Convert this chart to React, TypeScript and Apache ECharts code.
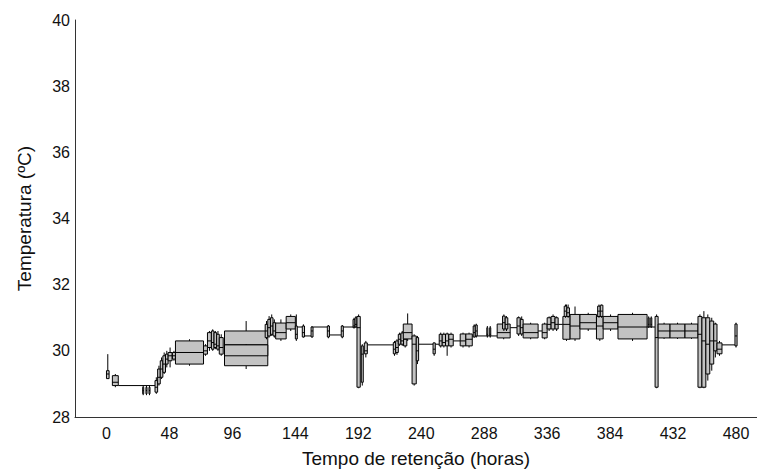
import React, { useEffect, useRef } from "react";
import * as echarts from "echarts";

// Tick labels
const xTicks = [0, 48, 96, 144, 192, 240, 288, 336, 384, 432, 480];

// Boxes: [hourStart, hourEnd, low, q1, median, q3, high]  (hours, ºC)
const boxesA = [
  [0, 2, 29.16, 29.16, 29.3, 29.4, 29.9],
  [4.5, 9, 28.9, 28.95, 29.05, 29.25, 29.3],
  [27.6, 28.4, 28.66, 28.7, 28.8, 28.9, 28.95],
  [30.1, 30.9, 28.66, 28.7, 28.8, 28.9, 28.95],
  [32.4, 33.2, 28.66, 28.7, 28.8, 28.9, 28.95],
  [37, 39, 28.7, 28.75, 28.9, 29.1, 29.2],
  [39, 41, 28.95, 29.0, 29.2, 29.45, 29.55],
  [41, 43, 29.15, 29.2, 29.45, 29.7, 29.8],
  [43, 45, 29.3, 29.35, 29.6, 29.85, 29.95],
  [45, 47, 29.5, 29.6, 29.75, 29.9, 30.0],
];
const boxesB = [
  [47, 50, 29.5, 29.7, 29.85, 29.95, 30.1],
  [50.3, 52.6, 29.7, 29.75, 29.85, 29.95, 30.0],
  [52.6, 74, 29.55, 29.6, 29.95, 30.3, 30.35],
  [74, 77, 29.85, 29.9, 30.0, 30.15, 30.2],
  [77, 80, 30.0, 30.1, 30.3, 30.55, 30.6],
  [80, 82, 30.0, 30.05, 30.25, 30.6, 30.65],
  [82, 84, 30.05, 30.1, 30.2, 30.55, 30.6],
  [84, 86, 30.0, 30.05, 30.15, 30.5, 30.6],
  [86, 89, 29.85, 29.9, 30.1, 30.4, 30.5],
];
const boxesC = [
  [90, 123, 29.8, 29.85, 30.18, 30.6, 30.9],
  [90, 123, 29.45, 29.55, 29.85, 30.18, 30.2],
  [121, 123, 30.35, 30.4, 30.6, 30.8, 30.9],
  [123, 125, 30.4, 30.45, 30.7, 30.95, 31.05],
  [125, 127, 30.45, 30.5, 30.75, 31.0, 31.1],
  [127, 129, 30.4, 30.45, 30.6, 30.85, 30.95],
  [129, 137, 30.3, 30.36, 30.55, 30.84, 30.95],
  [137, 144, 30.6, 30.66, 30.85, 31.04, 31.1],
];
const boxesD = [
  [144, 145.5, 30.3, 30.36, 30.5, 30.75, 31.1],
  [149.3, 151, 30.4, 30.42, 30.55, 30.75, 30.8],
  [156, 157.5, 30.4, 30.42, 30.6, 30.72, 30.75],
  [168.4, 170, 30.38, 30.42, 30.6, 30.75, 30.78],
  [179, 180.6, 30.38, 30.42, 30.6, 30.75, 30.78],
  [188, 189.5, 30.68, 30.7, 30.75, 30.95, 31.0],
  [189.5, 191, 30.7, 30.72, 30.8, 31.0, 31.05],
  [191, 193.5, 28.87, 28.9, 30.7, 31.04, 31.1],
];
const boxesE = [
  [194.3, 195.8, 28.95, 29.05, 29.9, 30.15, 30.2],
  [196.6, 198.9, 29.8, 29.91, 30.0, 30.24, 30.3],
  [218.7, 220.5, 29.85, 29.91, 30.05, 30.25, 30.3],
  [220.5, 222.5, 29.88, 29.95, 30.1, 30.3, 30.35],
  [222.5, 224.5, 30.15, 30.2, 30.35, 30.5, 30.55],
  [224.5, 226.5, 30.15, 30.2, 30.3, 30.54, 30.6],
  [226.5, 229, 30.1, 30.15, 30.35, 30.5, 30.55],
  [226.3, 233, 30.3, 30.36, 30.55, 30.81, 31.13],
  [233, 236.2, 28.95, 29.0, 30.2, 30.45, 30.5],
  [236.2, 238, 29.6, 29.7, 30.0, 30.4, 30.45],
];
const boxesF = [
  [249, 250.7, 29.85, 29.91, 30.05, 30.24, 30.25],
  [253.7, 256, 30.1, 30.15, 30.3, 30.5, 30.55],
  [256, 258.5, 30.1, 30.15, 30.25, 30.5, 30.55],
  [258.5, 261, 29.85, 30.15, 30.3, 30.51, 30.55],
  [261, 264.4, 30.1, 30.15, 30.35, 30.5, 30.55],
  [269.7, 274, 30.1, 30.15, 30.3, 30.51, 30.55],
  [274, 278.9, 30.1, 30.15, 30.35, 30.51, 30.55],
  [279.6, 281.2, 30.4, 30.42, 30.55, 30.75, 30.8],
  [281.2, 282.7, 30.4, 30.45, 30.6, 30.78, 30.82],
];
const boxesG = [
  [290, 290.8, 30.4, 30.45, 30.5, 30.7, 30.75],
  [292.2, 293, 30.4, 30.45, 30.5, 30.7, 30.75],
  [297.9, 307.8, 30.35, 30.39, 30.55, 30.81, 30.85],
  [302, 304, 30.6, 30.66, 30.85, 31.05, 31.1],
  [304, 306, 30.6, 30.66, 30.8, 31.0, 31.05],
  [313, 315.5, 30.45, 30.51, 30.75, 31.0, 31.04],
  [315.5, 317.7, 30.45, 30.51, 30.7, 30.95, 31.04],
  [317.7, 329.1, 30.35, 30.39, 30.55, 30.81, 30.85],
  [332.2, 336, 30.35, 30.39, 30.55, 30.81, 30.85],
];
const boxesH = [
  [336, 339, 30.6, 30.66, 30.8, 31.0, 31.04],
  [339, 342, 30.6, 30.66, 30.85, 31.04, 31.1],
  [342, 344.4, 30.6, 30.66, 30.8, 31.0, 31.04],
  [348, 353.5, 30.3, 30.35, 30.8, 31.04, 31.4],
  [349, 351, 31.0, 31.04, 31.2, 31.35, 31.4],
  [351, 353, 31.0, 31.04, 31.15, 31.3, 31.4],
  [353.5, 361, 30.3, 30.36, 30.75, 31.1, 31.34],
  [361, 373.6, 30.6, 30.66, 30.85, 31.1, 31.15],
  [373.6, 378.7, 30.3, 30.36, 30.75, 31.04, 31.1],
  [374.5, 376.5, 31.0, 31.04, 31.2, 31.35, 31.4],
  [376.5, 378.5, 31.0, 31.04, 31.2, 31.38, 31.4],
  [378.7, 390, 30.6, 30.66, 30.85, 31.04, 31.1],
];
const boxesI = [
  [390, 412.2, 30.3, 30.36, 30.72, 31.1, 31.15],
  [413, 413.8, 30.7, 30.72, 30.8, 31.0, 31.04],
  [415, 415.8, 30.7, 30.72, 30.8, 31.0, 31.04],
  [418.3, 420.6, 28.87, 28.9, 30.4, 31.04, 31.1],
  [420.6, 429.7, 30.36, 30.39, 30.6, 30.81, 30.85],
];
const boxesJ = [
  [429.7, 441.1, 30.36, 30.39, 30.6, 30.81, 30.85],
  [441.1, 451, 30.36, 30.39, 30.6, 30.81, 30.85],
  [451, 454, 28.87, 28.9, 30.5, 31.04, 31.1],
  [454, 457, 28.87, 28.9, 30.3, 31.0, 31.2],
  [457, 460, 29.1, 29.3, 30.2, 31.0, 31.1],
  [460, 463, 29.4, 29.6, 30.3, 30.9, 31.0],
  [463, 465.5, 29.8, 30.0, 30.3, 30.81, 30.85],
  [465.5, 469.3, 29.85, 29.91, 30.05, 30.24, 30.3],
  [479.2, 480.8, 30.1, 30.15, 30.45, 30.81, 30.85],
];

// Thin connecting trace between boxes: [hour, ºC] segments
const traceSegments = [
  [[9, 28.95], [37, 28.95]],
  [[145.5, 30.72], [149.3, 30.72]],
  [[151, 30.45], [156, 30.45]],
  [[157.5, 30.72], [168.4, 30.72]],
  [[170, 30.48], [179, 30.48]],
  [[180.6, 30.72], [188, 30.72]],
  [[198.9, 30.18], [218.7, 30.18]],
  [[238, 30.2], [249, 30.2]],
  [[250.7, 30.2], [253.7, 30.2]],
  [[264.4, 30.3], [269.7, 30.3]],
  [[278.9, 30.45], [297.9, 30.45]],
  [[307.8, 30.7], [313, 30.7]],
  [[329.1, 30.6], [332.2, 30.6]],
  [[344.4, 30.8], [348, 30.8]],
  [[412.2, 30.72], [418.3, 30.72]],
  [[469.3, 30.18], [479.2, 30.18]],
];

const allBoxes = [
  ...boxesA, ...boxesB, ...boxesC, ...boxesD, ...boxesE,
  ...boxesF, ...boxesG, ...boxesH, ...boxesI, ...boxesJ,
];

const FONT = "'Liberation Sans', Arial, sans-serif";

export default function App() {
  const ref = useRef<HTMLDivElement>(null);
  useEffect(() => {
    const chart = echarts.init(ref.current!, null, { renderer: "svg" });
    const renderItem = (params: any, api: any) => {
      const h0 = api.value(0), h1 = api.value(1);
      const lo = api.value(2), q1 = api.value(3), md = api.value(4), q3 = api.value(5), hi = api.value(6);
      const tl = api.coord([h0, q3]);
      const br = api.coord([h1, q1]);
      const xc = api.coord([(h0 + h1) / 2, md])[0];
      const yHi = api.coord([h0, hi])[1];
      const yLo = api.coord([h0, lo])[1];
      const yMd = api.coord([h0, md])[1];
      const st = { stroke: "#000", lineWidth: 1, fill: null };
      return {
        type: "group",
        children: [
          { type: "line", shape: { x1: xc, y1: yHi, x2: xc, y2: tl[1] }, style: st },
          { type: "line", shape: { x1: xc, y1: br[1], x2: xc, y2: yLo }, style: st },
          {
            type: "rect",
            shape: { x: tl[0], y: tl[1], width: br[0] - tl[0], height: br[1] - tl[1] },
            style: { fill: "#c3c3c3", stroke: "#000", lineWidth: 1 },
          },
          { type: "line", shape: { x1: tl[0], y1: yMd, x2: br[0], y2: yMd }, style: st },
        ],
      };
    };
    chart.setOption({
      animation: false,
      backgroundColor: "#fff",
      textStyle: { fontFamily: FONT },
      grid: { left: 75, right: 0, top: 20, bottom: 50, containLabel: false },
      xAxis: {
        type: "value",
        min: -24,
        max: 496,
        name: "Tempo de retenção (horas)",
        nameLocation: "middle",
        nameGap: 32,
        nameTextStyle: { fontSize: 19, color: "#111", fontFamily: FONT },
        axisLine: { show: true, onZero: false, lineStyle: { color: "#333", width: 1 } },
        axisTick: { show: false },
        splitLine: { show: false },
        axisLabel: { customValues: xTicks, fontSize: 16, color: "#111", margin: 8, fontFamily: FONT },
      },
      yAxis: {
        type: "value",
        min: 28,
        max: 40,
        interval: 2,
        name: "Temperatura (ºC)",
        nameLocation: "middle",
        nameGap: 41,
        nameRotate: 90,
        nameTextStyle: { fontSize: 19, color: "#111", fontFamily: FONT },
        axisLine: { show: true, onZero: false, lineStyle: { color: "#333", width: 1 } },
        axisTick: { show: false },
        splitLine: { show: false },
        axisLabel: { fontSize: 16, color: "#111", margin: 5, fontFamily: FONT },
      },
      series: [
        ...traceSegments.map((seg) => ({
          type: "line",
          data: seg,
          symbol: "none",
          silent: true,
          lineStyle: { color: "#000", width: 1 },
          z: 1,
        })),
        {
          type: "custom",
          renderItem,
          data: allBoxes,
          encode: { x: [0, 1], y: [2, 3, 4, 5, 6] },
          z: 2,
          silent: true,
        },
      ],
    });
    return () => chart.dispose();
  }, []);
  return (
    <div
      ref={ref}
      style={{ position: "fixed", left: 0, top: 0, width: 757, height: 473, background: "#fff" }}
    />
  );
}
